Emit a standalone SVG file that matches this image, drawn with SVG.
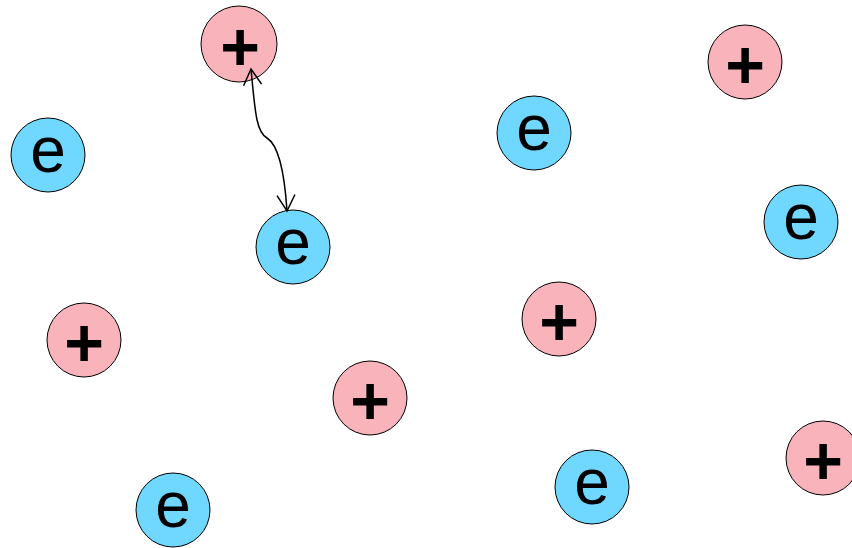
<svg xmlns="http://www.w3.org/2000/svg" width="852" height="548" viewBox="0 0 852 548">
<style>
.p{fill:#F9B3BA;stroke:#000;stroke-width:1}
.e{fill:#70D8FF;stroke:#000;stroke-width:1}
.tp{font-family:"Liberation Sans",Arial,sans-serif;font-weight:bold;font-size:68px;text-anchor:middle;fill:#000}
.te{font-family:"Liberation Sans",Arial,sans-serif;font-size:64px;text-anchor:middle;fill:#000}
.c{fill:none;stroke:#000;stroke-width:1.5}
</style>
<defs>
<marker id="a" markerWidth="20" markerHeight="22" refX="17" refY="10" orient="auto-start-reverse" markerUnits="userSpaceOnUse">
<path d="M1,1 L17,10 L1,19" fill="none" stroke="#000" stroke-width="1.5"/>
</marker>
</defs>
<g id="p1"><circle class="p" cx="239" cy="44" r="38"/><text class="tp" x="240" y="70">+</text></g>
<g id="p2"><circle class="p" cx="745" cy="62" r="37"/><text class="tp" x="745" y="88">+</text></g>
<g id="p3"><circle class="p" cx="84" cy="340" r="37"/><text class="tp" x="84" y="366">+</text></g>
<g id="p4"><circle class="p" cx="370" cy="398" r="37"/><text class="tp" x="370" y="424">+</text></g>
<g id="p5"><circle class="p" cx="559" cy="319" r="37"/><text class="tp" x="559" y="345">+</text></g>
<g id="p6"><circle class="p" cx="823" cy="458" r="37"/><text class="tp" x="823" y="484">+</text></g>
<g id="e1"><circle class="e" cx="48" cy="155" r="37"/><text class="te" x="48" y="172">e</text></g>
<g id="e2"><circle class="e" cx="293" cy="247" r="37"/><text class="te" x="293" y="264">e</text></g>
<g id="e3"><circle class="e" cx="173" cy="510" r="37"/><text class="te" x="173" y="527">e</text></g>
<g id="e4"><circle class="e" cx="534" cy="133" r="37"/><text class="te" x="534" y="150">e</text></g>
<g id="e5"><circle class="e" cx="801" cy="222" r="37"/><text class="te" x="801" y="239">e</text></g>
<g id="e6"><circle class="e" cx="592" cy="487" r="37"/><text class="te" x="592" y="504">e</text></g>
<g id="connectors">
<path class="c" d="M251,69 C255,110 256,132 267,138 C280,146 285,180 287,211" marker-start="url(#a)" marker-end="url(#a)"/>
</g>
</svg>
